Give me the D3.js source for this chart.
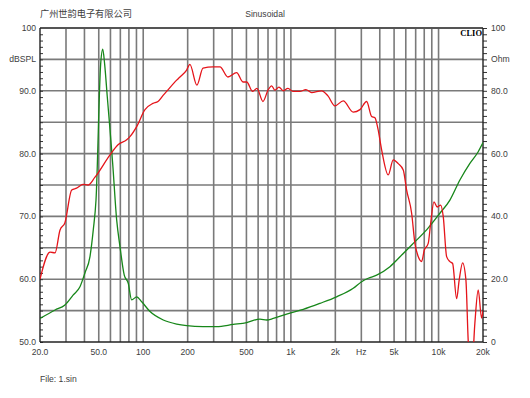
<!DOCTYPE html>
<html>
<head>
<meta charset="utf-8">
<script src="https://cdn.jsdelivr.net/npm/d3@7"></script>
<style>
  body { margin: 0; background: #fff; }
  svg { display: block; font-family: "Liberation Sans", Arial, sans-serif; }
  .lbl { font-size: 8.6px; fill: #404040; }
</style>
</head>
<body>
<svg width="530" height="398"></svg>
<script>
// SPL curve (red, left axis dBSPL)
const splFreq = [20, 23.4, 25.3, 27.3, 29.5, 32.8, 35.4, 39.1, 42.3, 47, 59.6, 67.5, 77.3, 81.3, 90.3,
  102.8, 116.4, 125.9, 136.8, 144.1, 168.5, 177.4, 196.8, 207, 231, 254, 297, 331, 375, 429, 474, 502,
  551, 589, 647, 700, 741, 780, 830, 888, 955, 1033, 1151, 1264, 1382, 1615, 1782, 1986, 2262, 2643,
  2937, 3258, 3524, 3709, 3882, 4117, 4563, 4933, 5334, 5767, 6079, 6573, 6918, 7283, 7679, 8000,
  8513, 8840, 9308, 9796, 10328, 10757, 11341, 11938, 12452, 13254, 13803, 14553, 15320, 15874,
  16736, 17620, 18560, 19570, 20000];
const splDb = [60, 64.3, 64.2, 67.8, 69, 74.2, 74.5, 75.1, 75, 76.2, 79.8, 81.4, 82.2, 82.7, 84.3,
  87, 88, 88.3, 89.3, 89.9, 91.7, 92.2, 93.3, 94.2, 90.9, 93.6, 93.8, 93.8, 92.2, 92.9, 91.4, 91.4,
  89.9, 90.4, 88.3, 90.1, 90.8, 90.1, 90.6, 90, 90.4, 89.9, 89.9, 90.2, 89.7, 90, 89.2, 87.6, 88.4, 86.6,
  87, 88.3, 85.9, 85.7, 84, 80.6, 76.6, 79, 78.4, 77.4, 74.2, 70.5, 65.7, 63.6, 62.8, 64.6,
  65.7, 68.9, 72.3, 71.5, 71.8, 70, 63.6, 62.8, 62.5, 56.9, 59.9, 62.6, 59.9, 50.3,
  45, 53, 58.3, 53.8, 55];

// Impedance curve (green, right axis Ohm)
const impFreq = [20, 25.3, 29.5, 33.6, 37.3, 40.3, 43.6, 45.9, 47.9, 51.5, 53.2, 54.8, 57.1, 59.6,
  62.1, 66.1, 69.6, 74.4, 79.2, 83.5, 90.3, 97.7, 111.2, 136.7, 168.5, 196.9, 254, 314, 407, 502,
  617, 686, 760, 936, 1213, 1573, 2041, 2644, 3013, 3341, 3809, 4686, 5767, 6740, 8302, 10213,
  11938, 13951, 16304, 18560, 20000];
const impOhm = [7.5, 10.2, 11.8, 15, 17.6, 22, 27.2, 35.7, 45.2, 88.5, 93.3, 88.5, 78.1, 67.5,
  56.9, 38.9, 30.4, 21.3, 18.7, 13.4, 14.4, 12.8, 9.7, 7, 5.7, 5.2, 4.9, 4.9, 5.6, 6.2,
  7.3, 7, 7.5, 8.9, 10.4, 12.3, 14.4, 17.1, 19.2, 20.3, 21.3, 24, 28.2, 31.4, 35.7, 41,
  45.2, 51.6, 56.9, 60.6, 63.5];

// grid and tick labels
const freqGrid = [30, 40, 50, 60, 70, 80, 90, 100, 200, 300, 400, 500, 600, 700, 800, 900,
  1000, 2000, 3000, 4000, 5000, 6000, 7000, 8000, 9000, 10000];
const freqTicks = [20, 50, 100, 200, 500, 1000, 2000, 3000, 5000, 10000, 20000];
const freqLabels = ["20.0", "50.0", "100", "200", "500", "1k", "2k", "Hz", "5k", "10k", "20k"];
const dbTicks = [100, 95, 90, 80, 70, 60, 50];
const dbLabels = ["100", "dBSPL", "90.0", "80.0", "70.0", "60.0", "50.0"];
const ohmTicks = [100, 90, 80, 60, 40, 20, 0];
const ohmLabels = ["100", "Ohm", "80.0", "60.0", "40.0", "20.0", "0"];

const L = 40, R = 483, T = 28, B = 342;
const svg = d3.select("svg");

const x = d3.scaleLog().domain([20, 20000]).range([L, R]);
const yL = d3.scaleLinear().domain([50, 100]).range([B, T]);
const yR = d3.scaleLinear().domain([0, 100]).range([B, T]);

// grid
const grid = svg.append("g").attr("stroke", "#7a7a7a").attr("stroke-width", 1.6);
grid.selectAll(".v").data(freqGrid).join("line")
  .attr("x1", d => x(d)).attr("x2", d => x(d))
  .attr("y1", T).attr("y2", B);
grid.selectAll(".h").data(d3.range(55, 100, 5)).join("line")
  .attr("x1", L).attr("x2", R)
  .attr("y1", d => yL(d)).attr("y2", d => yL(d));

// minor ticks
svg.append("g").attr("transform", `translate(${L},0)`)
  .call(d3.axisRight(yL).tickValues(d3.range(50, 101, 1)).tickSize(3).tickFormat(""))
  .call(g => g.select(".domain").remove())
  .selectAll("line").attr("stroke", "#333");
svg.append("g").attr("transform", `translate(${R},0)`)
  .call(d3.axisRight(yR).tickValues(d3.range(0, 101, 2)).tickSize(4).tickFormat(""))
  .call(g => g.select(".domain").remove())
  .selectAll("line").attr("stroke", "#333");

// frame
svg.append("line").attr("x1", L).attr("x2", R).attr("y1", T).attr("y2", T)
  .attr("stroke", "#555").attr("stroke-width", 2.2);
svg.append("line").attr("x1", L).attr("x2", R).attr("y1", B).attr("y2", B)
  .attr("stroke", "#222").attr("stroke-width", 1.4);
svg.append("line").attr("x1", L).attr("x2", L).attr("y1", T).attr("y2", B)
  .attr("stroke", "#222").attr("stroke-width", 1.4);
svg.append("line").attr("x1", R).attr("x2", R).attr("y1", T).attr("y2", B)
  .attr("stroke", "#222").attr("stroke-width", 1.4);

// curves
svg.append("clipPath").attr("id", "clip")
  .append("rect").attr("x", L).attr("y", T).attr("width", R - L).attr("height", B - T);

const splLine = d3.line().x((d, i) => x(splFreq[i])).y(d => yL(d)).curve(d3.curveMonotoneX);
const impLine = d3.line().x((d, i) => x(impFreq[i])).y(d => yR(d)).curve(d3.curveMonotoneX);

svg.append("path").attr("clip-path", "url(#clip)")
  .attr("d", impLine(impOhm))
  .attr("fill", "none").attr("stroke", "#17871a").attr("stroke-width", 1.3);
svg.append("path").attr("clip-path", "url(#clip)")
  .attr("d", splLine(splDb))
  .attr("fill", "none").attr("stroke", "#e5141a").attr("stroke-width", 1.3);

// axis labels
svg.append("g").selectAll("text").data(dbTicks).join("text")
  .attr("class", "lbl").attr("x", 36).attr("y", d => yL(d)).attr("dy", "0.35em")
  .attr("text-anchor", "end").text((d, i) => dbLabels[i]);
svg.append("g").selectAll("text").data(ohmTicks).join("text")
  .attr("class", "lbl").attr("x", 491).attr("y", d => yR(d)).attr("dy", "0.35em")
  .text((d, i) => ohmLabels[i]);
svg.append("g").selectAll("text").data(freqTicks).join("text")
  .attr("class", "lbl").attr("x", d => x(d)).attr("y", 355)
  .attr("text-anchor", "middle").text((d, i) => freqLabels[i]);

// titles
svg.append("text").attr("class", "lbl").attr("x", 40).attr("y", 17)
  .style("font-family", "'Noto Sans CJK SC', sans-serif").style("font-size", "9.2px")
  .text("广州世韵电子有限公司");
svg.append("text").attr("class", "lbl").attr("x", 265).attr("y", 17)
  .attr("text-anchor", "middle").text("Sinusoidal");
svg.append("text").attr("x", 482).attr("y", 36).attr("text-anchor", "end")
  .style("font-family", "'Liberation Serif', serif").style("font-weight", "bold")
  .style("font-size", "8.5px").attr("fill", "#000").text("CLIO");
svg.append("text").attr("class", "lbl").attr("x", 40).attr("y", 382).text("File: 1.sin");
</script>
</body>
</html>
